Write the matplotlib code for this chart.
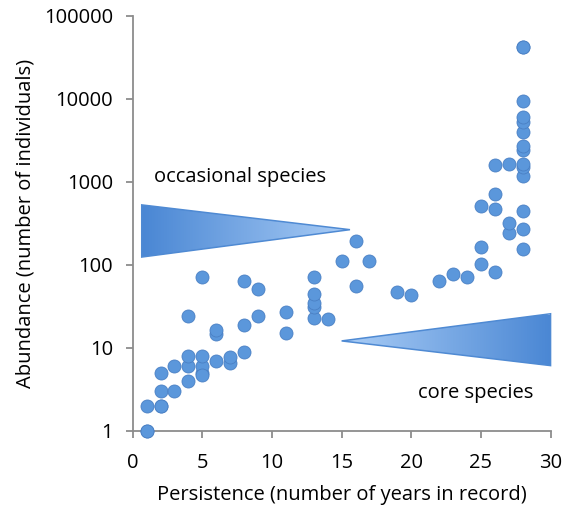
import numpy as np
import matplotlib
matplotlib.use("Agg")
import matplotlib.pyplot as plt
from matplotlib.patches import Polygon

plt.rcParams['font.family'] = ['Open Sans', 'DejaVu Sans']

# persistence (years) and abundance
years = [1, 1, 1, 2, 2, 2, 2, 3, 3,
         4, 4, 4, 4, 5, 5, 5, 5, 5,
         6, 6, 6, 7, 7, 8, 8, 8, 9, 9,
         11, 11, 13, 13, 13, 13, 13, 14,
         15, 16, 16, 17, 19, 20, 22, 23, 24,
         25, 25, 25, 26, 26, 26, 26,
         27, 27, 27,
         28, 28, 28, 28, 28, 28, 28, 28, 28, 28, 28, 28, 28, 28]
abundance = [1, 1, 2, 2, 2, 3, 5, 3, 6,
             4, 6, 8, 24, 5, 6, 8, 72, 4.7,
             7, 14.5, 16.5, 6.5, 7.8, 9, 19, 63, 24, 51,
             15, 27, 23, 31, 35, 45, 72, 22,
             110, 56, 195, 110, 47, 43, 63, 78, 72,
             102, 166, 505, 83, 473, 716, 1580,
             240, 323, 1630,
             155, 270, 440, 1160, 1500, 1650, 2450, 2700, 4000, 5200, 6000, 9300, 42700, 42700]

# annotation wedges (x, y in data units)
occ_tri = [(0.65, 527), (0.65, 124), (15.6, 265)]
core_tri = [(15.0, 12.1), (30.0, 25.7), (30.0, 6.1)]

fig = plt.figure(figsize=(5.67, 5.11), dpi=100)
ax = fig.add_axes([0.234, 0.157, 0.737, 0.812])

ax.set_yscale('log')

grey = '#8c8c8c'
for s in ['top', 'right']:
    ax.spines[s].set_visible(False)
for s in ['left', 'bottom']:
    ax.spines[s].set_color(grey)
    ax.spines[s].set_linewidth(1.3)

ax.set_xticks([0, 5, 10, 15, 20, 25, 30])
ax.set_yticks([1, 10, 100, 1000, 10000, 100000])
ax.set_yticklabels(['1', '10', '100', '1000', '10000', '100000'])
ax.minorticks_off()
ax.tick_params(direction='out', length=5, width=1.3, color=grey,
               labelsize=14.5, labelcolor='black')
ax.tick_params(axis='x', pad=11)
ax.tick_params(axis='y', pad=9)


def wedge(pts, dark_left):
    poly = Polygon(pts, closed=True, facecolor='none', edgecolor='#4f8ad3',
                   linewidth=1.1, zorder=3, clip_on=False)
    ax.add_patch(poly)
    xs = [p[0] for p in pts]
    ys = [p[1] for p in pts]
    grad = np.linspace(0, 1, 256).reshape(1, -1)
    if dark_left:
        grad = grad[:, ::-1]
    cmap = matplotlib.colors.LinearSegmentedColormap.from_list(
        'w', ['#aacdf6', '#4a87d4'])
    im = ax.imshow(grad, cmap=cmap, aspect='auto',
                   extent=[min(xs), max(xs), min(ys), max(ys)], zorder=2)
    im.set_clip_path(poly)
    im.set_clip_box(None)


wedge(occ_tri, True)
wedge(core_tri, False)
ax.set_xlim(0, 30)
ax.set_ylim(1, 100000)

ax.scatter(years, abundance, s=88, color='#5b97db', edgecolors='#4a80c4',
           linewidths=0.6, zorder=4, clip_on=False)

ax.text(1.5, 1150, 'occasional species', fontsize=14.5, va='center', ha='left')
ax.text(20.5, 2.87, 'core species', fontsize=14.5, va='center', ha='left')

ax.set_xlabel('Persistence (number of years in record)', fontsize=14.5, labelpad=9)
ax.set_ylabel('Abundance (number of individuals)', fontsize=14.5, labelpad=6)

fig.savefig('out.png', dpi=100)
